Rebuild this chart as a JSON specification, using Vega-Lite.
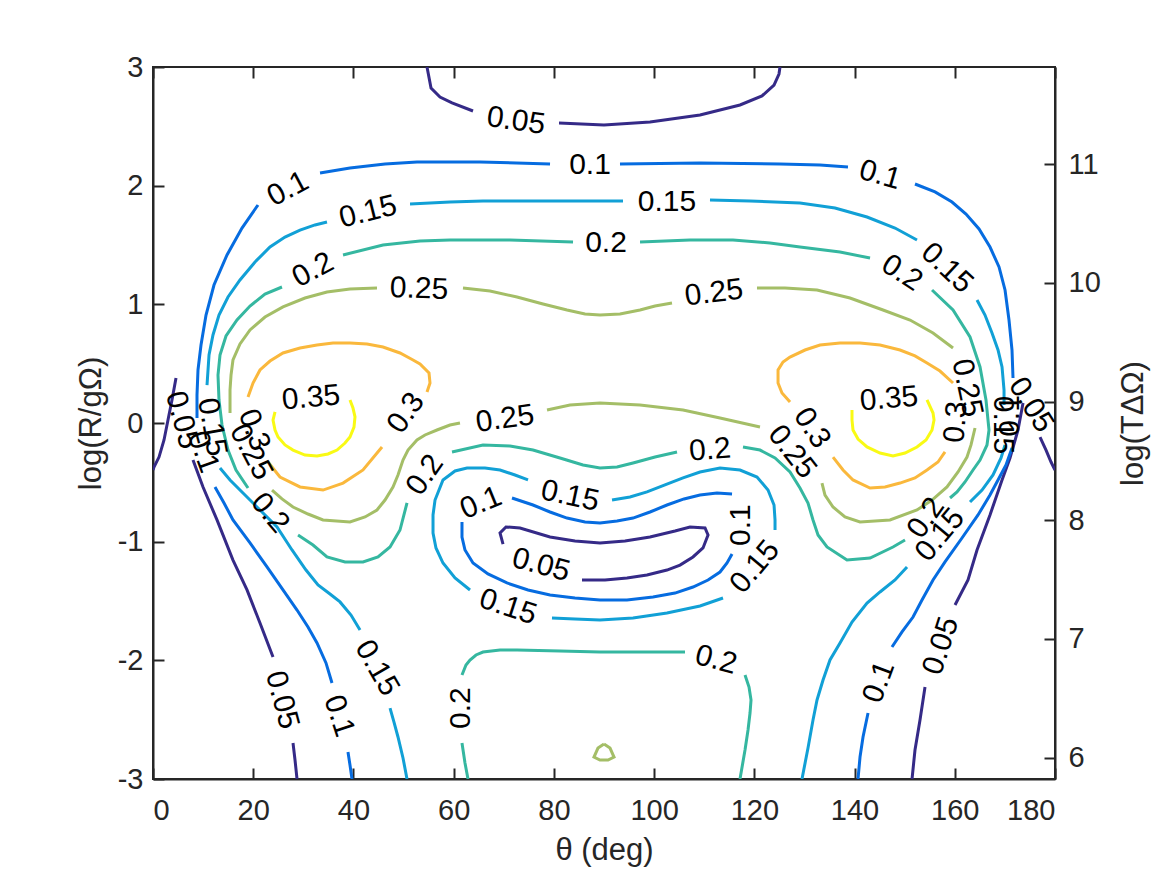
{
  "$schema": "https://vega.github.io/schema/vega-lite/v6.json",
  "width": 902,
  "height": 712,
  "autosize": {"type": "none"},
  "padding": {"left": 153, "top": 67, "right": 112, "bottom": 96},
  "background": "white",
  "config": {
    "font": "Liberation Sans",
    "view": {"stroke": "#262626", "strokeWidth": 2},
    "axis": {
      "grid": false,
      "domainColor": "#262626",
      "domainWidth": 2,
      "tickColor": "#262626",
      "tickWidth": 2,
      "tickSize": -11,
      "labelColor": "#262626",
      "labelFontSize": 29,
      "labelFont": "Liberation Sans",
      "titleColor": "#262626",
      "titleFontSize": 31,
      "titleFontWeight": "normal",
      "titleFont": "Liberation Sans"
    }
  },
  "datasets": {
    "lines": [
      {"level":"0.05","seg":"05a","theta":54.68,"logR":3.0},
      {"level":"0.05","seg":"05a","theta":55.48,"logR":2.823},
      {"level":"0.05","seg":"05a","theta":57.27,"logR":2.747},
      {"level":"0.05","seg":"05a","theta":59.67,"logR":2.697},
      {"level":"0.05","seg":"05a","theta":63.86,"logR":2.629},
      {"level":"0.05","seg":"05b","theta":81.02,"logR":2.528},
      {"level":"0.05","seg":"05b","theta":90.0,"logR":2.511},
      {"level":"0.05","seg":"05b","theta":99.18,"logR":2.537},
      {"level":"0.05","seg":"05b","theta":109.16,"logR":2.596},
      {"level":"0.05","seg":"05b","theta":117.14,"logR":2.68},
      {"level":"0.05","seg":"05b","theta":121.53,"logR":2.756},
      {"level":"0.05","seg":"05b","theta":123.93,"logR":2.848},
      {"level":"0.05","seg":"05b","theta":124.92,"logR":2.941},
      {"level":"0.05","seg":"05b","theta":125.12,"logR":3.0},
      {"level":"0.05","seg":"05c","theta":4.59,"logR":0.379},
      {"level":"0.05","seg":"05c","theta":3.79,"logR":0.194},
      {"level":"0.05","seg":"05c","theta":2.99,"logR":0.025},
      {"level":"0.05","seg":"05c","theta":2.2,"logR":-0.143},
      {"level":"0.05","seg":"05c","theta":1.2,"logR":-0.287},
      {"level":"0.05","seg":"05c","theta":0.2,"logR":-0.371},
      {"level":"0.05","seg":"05c","theta":0,"logR":-0.396},
      {"level":"0.05","seg":"05d","theta":7.98,"logR":-0.312},
      {"level":"0.05","seg":"05d","theta":9.98,"logR":-0.539},
      {"level":"0.05","seg":"05d","theta":12.77,"logR":-0.817},
      {"level":"0.05","seg":"05d","theta":15.96,"logR":-1.155},
      {"level":"0.05","seg":"05d","theta":18.76,"logR":-1.407},
      {"level":"0.05","seg":"05d","theta":21.35,"logR":-1.685},
      {"level":"0.05","seg":"05d","theta":23.95,"logR":-1.972},
      {"level":"0.05","seg":"05e","theta":27.94,"logR":-2.697},
      {"level":"0.05","seg":"05e","theta":28.34,"logR":-2.84},
      {"level":"0.05","seg":"05e","theta":28.74,"logR":-3.0},
      {"level":"0.05","seg":"05f","theta":177.01,"logR":-0.118},
      {"level":"0.05","seg":"05f","theta":178.21,"logR":-0.228},
      {"level":"0.05","seg":"05f","theta":179.21,"logR":-0.329},
      {"level":"0.05","seg":"05f","theta":180,"logR":-0.396},
      {"level":"0.05","seg":"05g","theta":173.62,"logR":0.169},
      {"level":"0.05","seg":"05g","theta":172.62,"logR":-0.059},
      {"level":"0.05","seg":"05g","theta":171.02,"logR":-0.295},
      {"level":"0.05","seg":"05g","theta":169.43,"logR":-0.48},
      {"level":"0.05","seg":"05g","theta":167.03,"logR":-0.775},
      {"level":"0.05","seg":"05g","theta":164.44,"logR":-1.07},
      {"level":"0.05","seg":"05g","theta":162.64,"logR":-1.323},
      {"level":"0.05","seg":"05g","theta":160.05,"logR":-1.534},
      {"level":"0.05","seg":"05h","theta":154.06,"logR":-2.225},
      {"level":"0.05","seg":"05h","theta":153.06,"logR":-2.503},
      {"level":"0.05","seg":"05h","theta":152.06,"logR":-2.756},
      {"level":"0.05","seg":"05h","theta":151.47,"logR":-3.0},
      {"level":"0.05","seg":"05i","theta":69.85,"logR":-1.02},
      {"level":"0.05","seg":"05i","theta":69.25,"logR":-0.927},
      {"level":"0.05","seg":"05i","theta":70.44,"logR":-0.876},
      {"level":"0.05","seg":"05i","theta":73.24,"logR":-0.885},
      {"level":"0.05","seg":"05i","theta":79.23,"logR":-0.961},
      {"level":"0.05","seg":"05i","theta":84.21,"logR":-0.994},
      {"level":"0.05","seg":"05i","theta":89.2,"logR":-1.011},
      {"level":"0.05","seg":"05i","theta":94.19,"logR":-0.994},
      {"level":"0.05","seg":"05i","theta":99.18,"logR":-0.961},
      {"level":"0.05","seg":"05i","theta":104.17,"logR":-0.91},
      {"level":"0.05","seg":"05i","theta":107.16,"logR":-0.876},
      {"level":"0.05","seg":"05i","theta":110.16,"logR":-0.885},
      {"level":"0.05","seg":"05i","theta":110.76,"logR":-0.944},
      {"level":"0.05","seg":"05i","theta":109.76,"logR":-1.053},
      {"level":"0.05","seg":"05i","theta":107.76,"logR":-1.129},
      {"level":"0.05","seg":"05i","theta":105.17,"logR":-1.197},
      {"level":"0.05","seg":"05i","theta":102.57,"logR":-1.239},
      {"level":"0.05","seg":"05i","theta":98.58,"logR":-1.281},
      {"level":"0.05","seg":"05i","theta":94.59,"logR":-1.306},
      {"level":"0.05","seg":"05i","theta":90.2,"logR":-1.323},
      {"level":"0.05","seg":"05i","theta":85.61,"logR":-1.323},

      {"level":"0.1","seg":"10a","theta":8.78,"logR":0.042},
      {"level":"0.1","seg":"10a","theta":8.78,"logR":0.236},
      {"level":"0.1","seg":"10a","theta":8.98,"logR":0.447},
      {"level":"0.1","seg":"10a","theta":9.58,"logR":0.657},
      {"level":"0.1","seg":"10a","theta":10.58,"logR":0.91},
      {"level":"0.1","seg":"10a","theta":12.17,"logR":1.163},
      {"level":"0.1","seg":"10a","theta":14.77,"logR":1.416},
      {"level":"0.1","seg":"10a","theta":17.76,"logR":1.643},
      {"level":"0.1","seg":"10a","theta":20.95,"logR":1.837},
      {"level":"0.1","seg":"10b","theta":33.33,"logR":2.107},
      {"level":"0.1","seg":"10b","theta":39.31,"logR":2.149},
      {"level":"0.1","seg":"10b","theta":46.3,"logR":2.183},
      {"level":"0.1","seg":"10b","theta":52.68,"logR":2.199},
      {"level":"0.1","seg":"10b","theta":65.26,"logR":2.199},
      {"level":"0.1","seg":"10b","theta":79.23,"logR":2.183},
      {"level":"0.1","seg":"10c","theta":93.19,"logR":2.183},
      {"level":"0.1","seg":"10c","theta":109.16,"logR":2.191},
      {"level":"0.1","seg":"10c","theta":125.12,"logR":2.183},
      {"level":"0.1","seg":"10c","theta":133.11,"logR":2.174},
      {"level":"0.1","seg":"10c","theta":138.69,"logR":2.157},
      {"level":"0.1","seg":"10d","theta":152.06,"logR":2.014},
      {"level":"0.1","seg":"10d","theta":156.06,"logR":1.947},
      {"level":"0.1","seg":"10d","theta":159.45,"logR":1.862},
      {"level":"0.1","seg":"10d","theta":162.24,"logR":1.761},
      {"level":"0.1","seg":"10d","theta":164.84,"logR":1.635},
      {"level":"0.1","seg":"10d","theta":167.03,"logR":1.483},
      {"level":"0.1","seg":"10d","theta":168.83,"logR":1.315},
      {"level":"0.1","seg":"10d","theta":170.03,"logR":1.121},
      {"level":"0.1","seg":"10d","theta":170.82,"logR":0.868},
      {"level":"0.1","seg":"10d","theta":171.42,"logR":0.615},
      {"level":"0.1","seg":"10d","theta":171.62,"logR":0.379},
      {"level":"0.1","seg":"10e","theta":12.37,"logR":-0.539},
      {"level":"0.1","seg":"10e","theta":14.17,"logR":-0.674},
      {"level":"0.1","seg":"10e","theta":15.96,"logR":-0.817},
      {"level":"0.1","seg":"10e","theta":19.36,"logR":-1.011},
      {"level":"0.1","seg":"10e","theta":22.75,"logR":-1.213},
      {"level":"0.1","seg":"10e","theta":25.94,"logR":-1.407},
      {"level":"0.1","seg":"10e","theta":28.74,"logR":-1.576},
      {"level":"0.1","seg":"10e","theta":30.93,"logR":-1.719},
      {"level":"0.1","seg":"10e","theta":32.73,"logR":-1.854},
      {"level":"0.1","seg":"10e","theta":34.52,"logR":-2.022},
      {"level":"0.1","seg":"10e","theta":35.72,"logR":-2.191},
      {"level":"0.1","seg":"10f","theta":38.91,"logR":-2.772},
      {"level":"0.1","seg":"10f","theta":39.31,"logR":-2.882},
      {"level":"0.1","seg":"10f","theta":39.71,"logR":-3.0},
      {"level":"0.1","seg":"10g","theta":171.42,"logR":-0.211},
      {"level":"0.1","seg":"10g","theta":170.22,"logR":-0.354},
      {"level":"0.1","seg":"10g","theta":168.63,"logR":-0.48},
      {"level":"0.1","seg":"10g","theta":167.03,"logR":-0.607},
      {"level":"0.1","seg":"10g","theta":164.64,"logR":-0.775},
      {"level":"0.1","seg":"10g","theta":161.44,"logR":-0.969},
      {"level":"0.1","seg":"10g","theta":158.05,"logR":-1.171},
      {"level":"0.1","seg":"10g","theta":155.66,"logR":-1.323},
      {"level":"0.1","seg":"10g","theta":153.46,"logR":-1.492},
      {"level":"0.1","seg":"10g","theta":151.67,"logR":-1.635},
      {"level":"0.1","seg":"10g","theta":149.47,"logR":-1.761},
      {"level":"0.1","seg":"10g","theta":147.47,"logR":-1.888},
      {"level":"0.1","seg":"10h","theta":142.69,"logR":-2.444},
      {"level":"0.1","seg":"10h","theta":141.69,"logR":-2.646},
      {"level":"0.1","seg":"10h","theta":141.09,"logR":-2.815},
      {"level":"0.1","seg":"10h","theta":140.69,"logR":-3.0},
      {"level":"0.1","seg":"10i","theta":71.64,"logR":-0.632},
      {"level":"0.1","seg":"10i","theta":75.83,"logR":-0.691},
      {"level":"0.1","seg":"10i","theta":79.23,"logR":-0.75},
      {"level":"0.1","seg":"10i","theta":82.62,"logR":-0.801},
      {"level":"0.1","seg":"10i","theta":86.21,"logR":-0.834},
      {"level":"0.1","seg":"10i","theta":89.2,"logR":-0.843},
      {"level":"0.1","seg":"10i","theta":92.6,"logR":-0.826},
      {"level":"0.1","seg":"10i","theta":95.79,"logR":-0.801},
      {"level":"0.1","seg":"10i","theta":99.18,"logR":-0.75},
      {"level":"0.1","seg":"10i","theta":102.57,"logR":-0.691},
      {"level":"0.1","seg":"10i","theta":105.97,"logR":-0.64},
      {"level":"0.1","seg":"10i","theta":109.16,"logR":-0.607},
      {"level":"0.1","seg":"10i","theta":112.55,"logR":-0.59},
      {"level":"0.1","seg":"10i","theta":115.55,"logR":-0.598},
      {"level":"0.1","seg":"10j","theta":115.55,"logR":-1.104},
      {"level":"0.1","seg":"10j","theta":114.55,"logR":-1.18},
      {"level":"0.1","seg":"10j","theta":113.15,"logR":-1.256},
      {"level":"0.1","seg":"10j","theta":110.76,"logR":-1.323},
      {"level":"0.1","seg":"10j","theta":107.76,"logR":-1.382},
      {"level":"0.1","seg":"10j","theta":104.17,"logR":-1.433},
      {"level":"0.1","seg":"10j","theta":99.78,"logR":-1.466},
      {"level":"0.1","seg":"10j","theta":94.59,"logR":-1.492},
      {"level":"0.1","seg":"10j","theta":89.2,"logR":-1.492},
      {"level":"0.1","seg":"10j","theta":84.21,"logR":-1.475},
      {"level":"0.1","seg":"10j","theta":79.23,"logR":-1.449},
      {"level":"0.1","seg":"10j","theta":74.84,"logR":-1.407},
      {"level":"0.1","seg":"10j","theta":70.64,"logR":-1.348},
      {"level":"0.1","seg":"10j","theta":66.85,"logR":-1.272},
      {"level":"0.1","seg":"10j","theta":63.86,"logR":-1.18},
      {"level":"0.1","seg":"10j","theta":62.26,"logR":-1.07},
      {"level":"0.1","seg":"10j","theta":61.66,"logR":-0.961},
      {"level":"0.1","seg":"10j","theta":61.66,"logR":-0.834},

      {"level":"0.15","seg":"15a","theta":10.78,"logR":0.32},
      {"level":"0.15","seg":"15a","theta":11.18,"logR":0.573},
      {"level":"0.15","seg":"15a","theta":11.97,"logR":0.742},
      {"level":"0.15","seg":"15a","theta":13.17,"logR":0.91},
      {"level":"0.15","seg":"15a","theta":14.97,"logR":1.062},
      {"level":"0.15","seg":"15a","theta":17.36,"logR":1.205},
      {"level":"0.15","seg":"15a","theta":20.36,"logR":1.357},
      {"level":"0.15","seg":"15a","theta":23.35,"logR":1.483},
      {"level":"0.15","seg":"15a","theta":26.34,"logR":1.567},
      {"level":"0.15","seg":"15a","theta":29.34,"logR":1.626},
      {"level":"0.15","seg":"15a","theta":32.33,"logR":1.669},
      {"level":"0.15","seg":"15a","theta":34.72,"logR":1.694},
      {"level":"0.15","seg":"15b","theta":51.29,"logR":1.846},
      {"level":"0.15","seg":"15b","theta":59.27,"logR":1.862},
      {"level":"0.15","seg":"15b","theta":65.85,"logR":1.871},
      {"level":"0.15","seg":"15b","theta":77.23,"logR":1.871},
      {"level":"0.15","seg":"15b","theta":89.2,"logR":1.871},
      {"level":"0.15","seg":"15b","theta":93.79,"logR":1.871},
      {"level":"0.15","seg":"15c","theta":111.15,"logR":1.879},
      {"level":"0.15","seg":"15c","theta":119.14,"logR":1.871},
      {"level":"0.15","seg":"15c","theta":129.11,"logR":1.854},
      {"level":"0.15","seg":"15c","theta":136.1,"logR":1.812},
      {"level":"0.15","seg":"15c","theta":142.49,"logR":1.736},
      {"level":"0.15","seg":"15c","theta":148.07,"logR":1.643},
      {"level":"0.15","seg":"15c","theta":152.46,"logR":1.542},
      {"level":"0.15","seg":"15d","theta":164.44,"logR":1.037},
      {"level":"0.15","seg":"15d","theta":166.03,"logR":0.91},
      {"level":"0.15","seg":"15d","theta":167.43,"logR":0.758},
      {"level":"0.15","seg":"15d","theta":168.63,"logR":0.615},
      {"level":"0.15","seg":"15d","theta":169.43,"logR":0.472},
      {"level":"0.15","seg":"15d","theta":169.83,"logR":0.278},
      {"level":"0.15","seg":"15d","theta":169.83,"logR":0.152},
      {"level":"0.15","seg":"15e","theta":13.37,"logR":-0.379},
      {"level":"0.15","seg":"15e","theta":15.37,"logR":-0.48},
      {"level":"0.15","seg":"15e","theta":17.96,"logR":-0.59},
      {"level":"0.15","seg":"15e","theta":21.35,"logR":-0.733},
      {"level":"0.15","seg":"15e","theta":24.75,"logR":-0.876},
      {"level":"0.15","seg":"15e","theta":27.74,"logR":-1.07},
      {"level":"0.15","seg":"15e","theta":30.53,"logR":-1.239},
      {"level":"0.15","seg":"15e","theta":32.93,"logR":-1.365},
      {"level":"0.15","seg":"15e","theta":35.32,"logR":-1.441},
      {"level":"0.15","seg":"15e","theta":37.32,"logR":-1.508},
      {"level":"0.15","seg":"15e","theta":39.51,"logR":-1.618},
      {"level":"0.15","seg":"15e","theta":41.31,"logR":-1.744},
      {"level":"0.15","seg":"15f","theta":47.3,"logR":-2.402},
      {"level":"0.15","seg":"15f","theta":48.09,"logR":-2.52},
      {"level":"0.15","seg":"15f","theta":48.89,"logR":-2.646},
      {"level":"0.15","seg":"15f","theta":49.89,"logR":-2.823},
      {"level":"0.15","seg":"15f","theta":50.69,"logR":-3.0},
      {"level":"0.15","seg":"15g","theta":170.03,"logR":-0.185},
      {"level":"0.15","seg":"15g","theta":169.23,"logR":-0.295},
      {"level":"0.15","seg":"15g","theta":167.63,"logR":-0.438},
      {"level":"0.15","seg":"15g","theta":165.44,"logR":-0.565},
      {"level":"0.15","seg":"15g","theta":163.04,"logR":-0.666},
      {"level":"0.15","seg":"15h","theta":150.47,"logR":-1.213},
      {"level":"0.15","seg":"15h","theta":148.07,"logR":-1.323},
      {"level":"0.15","seg":"15h","theta":145.08,"logR":-1.424},
      {"level":"0.15","seg":"15h","theta":142.49,"logR":-1.517},
      {"level":"0.15","seg":"15h","theta":139.49,"logR":-1.677},
      {"level":"0.15","seg":"15h","theta":137.1,"logR":-1.854},
      {"level":"0.15","seg":"15h","theta":135.1,"logR":-1.997},
      {"level":"0.15","seg":"15h","theta":133.71,"logR":-2.166},
      {"level":"0.15","seg":"15h","theta":132.51,"logR":-2.334},
      {"level":"0.15","seg":"15h","theta":131.71,"logR":-2.503},
      {"level":"0.15","seg":"15h","theta":130.71,"logR":-2.739},
      {"level":"0.15","seg":"15h","theta":129.51,"logR":-3.0},
      {"level":"0.15","seg":"15i","theta":91.6,"logR":-0.649},
      {"level":"0.15","seg":"15i","theta":95.19,"logR":-0.624},
      {"level":"0.15","seg":"15i","theta":98.58,"logR":-0.581},
      {"level":"0.15","seg":"15i","theta":102.17,"logR":-0.522},
      {"level":"0.15","seg":"15i","theta":105.77,"logR":-0.463},
      {"level":"0.15","seg":"15i","theta":109.16,"logR":-0.413},
      {"level":"0.15","seg":"15i","theta":113.15,"logR":-0.379},
      {"level":"0.15","seg":"15i","theta":117.14,"logR":-0.396},
      {"level":"0.15","seg":"15i","theta":120.53,"logR":-0.455},
      {"level":"0.15","seg":"15i","theta":122.73,"logR":-0.565},
      {"level":"0.15","seg":"15i","theta":123.93,"logR":-0.691},
      {"level":"0.15","seg":"15i","theta":124.13,"logR":-0.817},
      {"level":"0.15","seg":"15i","theta":124.13,"logR":-0.902},
      {"level":"0.15","seg":"15j","theta":113.75,"logR":-1.475},
      {"level":"0.15","seg":"15j","theta":109.16,"logR":-1.542},
      {"level":"0.15","seg":"15j","theta":102.57,"logR":-1.601},
      {"level":"0.15","seg":"15j","theta":95.79,"logR":-1.643},
      {"level":"0.15","seg":"15j","theta":89.2,"logR":-1.66},
      {"level":"0.15","seg":"15j","theta":84.21,"logR":-1.652},
      {"level":"0.15","seg":"15j","theta":79.62,"logR":-1.643},
      {"level":"0.15","seg":"15k","theta":63.26,"logR":-1.407},
      {"level":"0.15","seg":"15k","theta":60.27,"logR":-1.306},
      {"level":"0.15","seg":"15k","theta":57.87,"logR":-1.18},
      {"level":"0.15","seg":"15k","theta":56.47,"logR":-1.053},
      {"level":"0.15","seg":"15k","theta":55.88,"logR":-0.927},
      {"level":"0.15","seg":"15k","theta":55.88,"logR":-0.775},
      {"level":"0.15","seg":"15k","theta":56.28,"logR":-0.649},
      {"level":"0.15","seg":"15k","theta":57.87,"logR":-0.48},
      {"level":"0.15","seg":"15k","theta":60.27,"logR":-0.404},
      {"level":"0.15","seg":"15k","theta":62.66,"logR":-0.379},
      {"level":"0.15","seg":"15k","theta":66.25,"logR":-0.379},
      {"level":"0.15","seg":"15k","theta":69.25,"logR":-0.396},
      {"level":"0.15","seg":"15k","theta":72.24,"logR":-0.438},
      {"level":"0.15","seg":"15k","theta":74.84,"logR":-0.48},

      {"level":"0.2","seg":"20a","theta":18.96,"logR":-0.548},
      {"level":"0.2","seg":"20a","theta":16.56,"logR":-0.396},
      {"level":"0.2","seg":"20a","theta":14.97,"logR":-0.228},
      {"level":"0.2","seg":"20a","theta":13.77,"logR":-0.017},
      {"level":"0.2","seg":"20a","theta":13.17,"logR":0.194},
      {"level":"0.2","seg":"20a","theta":12.97,"logR":0.404},
      {"level":"0.2","seg":"20a","theta":13.37,"logR":0.573},
      {"level":"0.2","seg":"20a","theta":14.57,"logR":0.733},
      {"level":"0.2","seg":"20a","theta":16.76,"logR":0.868},
      {"level":"0.2","seg":"20a","theta":19.36,"logR":0.986},
      {"level":"0.2","seg":"20a","theta":22.35,"logR":1.087},
      {"level":"0.2","seg":"20a","theta":25.74,"logR":1.146},
      {"level":"0.2","seg":"20b","theta":37.92,"logR":1.416},
      {"level":"0.2","seg":"20b","theta":45.9,"logR":1.5},
      {"level":"0.2","seg":"20b","theta":53.28,"logR":1.534},
      {"level":"0.2","seg":"20b","theta":59.27,"logR":1.542},
      {"level":"0.2","seg":"20b","theta":71.24,"logR":1.542},
      {"level":"0.2","seg":"20b","theta":83.82,"logR":1.525},
      {"level":"0.2","seg":"20c","theta":97.19,"logR":1.525},
      {"level":"0.2","seg":"20c","theta":107.16,"logR":1.542},
      {"level":"0.2","seg":"20c","theta":115.74,"logR":1.542},
      {"level":"0.2","seg":"20c","theta":123.13,"logR":1.517},
      {"level":"0.2","seg":"20c","theta":129.11,"logR":1.483},
      {"level":"0.2","seg":"20c","theta":137.1,"logR":1.441},
      {"level":"0.2","seg":"20c","theta":143.09,"logR":1.39},
      {"level":"0.2","seg":"20d","theta":155.46,"logR":1.121},
      {"level":"0.2","seg":"20d","theta":159.65,"logR":0.952},
      {"level":"0.2","seg":"20d","theta":163.04,"logR":0.725},
      {"level":"0.2","seg":"20d","theta":165.04,"logR":0.472},
      {"level":"0.2","seg":"20d","theta":166.23,"logR":0.194},
      {"level":"0.2","seg":"20d","theta":166.83,"logR":-0.059},
      {"level":"0.2","seg":"20d","theta":166.43,"logR":-0.185},
      {"level":"0.2","seg":"20d","theta":165.04,"logR":-0.312},
      {"level":"0.2","seg":"20d","theta":163.64,"logR":-0.396},
      {"level":"0.2","seg":"20d","theta":162.04,"logR":-0.497},
      {"level":"0.2","seg":"20d","theta":160.45,"logR":-0.581},
      {"level":"0.2","seg":"20d","theta":159.05,"logR":-0.632},
      {"level":"0.2","seg":"20e","theta":150.07,"logR":-0.986},
      {"level":"0.2","seg":"20e","theta":147.67,"logR":-1.045},
      {"level":"0.2","seg":"20e","theta":143.09,"logR":-1.138},
      {"level":"0.2","seg":"20e","theta":138.49,"logR":-1.155},
      {"level":"0.2","seg":"20e","theta":134.5,"logR":-1.045},
      {"level":"0.2","seg":"20e","theta":132.71,"logR":-0.944},
      {"level":"0.2","seg":"20e","theta":131.71,"logR":-0.817},
      {"level":"0.2","seg":"20e","theta":130.71,"logR":-0.674},
      {"level":"0.2","seg":"20e","theta":129.11,"logR":-0.548},
      {"level":"0.2","seg":"20e","theta":127.12,"logR":-0.413},
      {"level":"0.2","seg":"20e","theta":124.13,"logR":-0.295},
      {"level":"0.2","seg":"20e","theta":121.13,"logR":-0.228},
      {"level":"0.2","seg":"20e","theta":117.74,"logR":-0.202},
      {"level":"0.2","seg":"20f","theta":104.57,"logR":-0.244},
      {"level":"0.2","seg":"20f","theta":100.18,"logR":-0.287},
      {"level":"0.2","seg":"20f","theta":95.79,"logR":-0.337},
      {"level":"0.2","seg":"20f","theta":92.6,"logR":-0.371},
      {"level":"0.2","seg":"20f","theta":89.2,"logR":-0.379},
      {"level":"0.2","seg":"20f","theta":85.81,"logR":-0.354},
      {"level":"0.2","seg":"20f","theta":81.22,"logR":-0.295},
      {"level":"0.2","seg":"20f","theta":75.83,"logR":-0.228},
      {"level":"0.2","seg":"20f","theta":71.24,"logR":-0.194},
      {"level":"0.2","seg":"20f","theta":65.85,"logR":-0.185},
      {"level":"0.2","seg":"20f","theta":59.67,"logR":-0.244},
      {"level":"0.2","seg":"20g","theta":50.69,"logR":-0.674},
      {"level":"0.2","seg":"20g","theta":49.29,"logR":-0.902},
      {"level":"0.2","seg":"20g","theta":47.3,"logR":-1.045},
      {"level":"0.2","seg":"20g","theta":44.9,"logR":-1.129},
      {"level":"0.2","seg":"20g","theta":41.91,"logR":-1.171},
      {"level":"0.2","seg":"20g","theta":38.32,"logR":-1.171},
      {"level":"0.2","seg":"20g","theta":34.72,"logR":-1.129},
      {"level":"0.2","seg":"20g","theta":31.93,"logR":-1.028},
      {"level":"0.2","seg":"20g","theta":28.94,"logR":-0.944},
      {"level":"0.2","seg":"20h","theta":61.66,"logR":-2.124},
      {"level":"0.2","seg":"20h","theta":62.46,"logR":-2.039},
      {"level":"0.2","seg":"20h","theta":63.26,"logR":-1.997},
      {"level":"0.2","seg":"20h","theta":64.46,"logR":-1.955},
      {"level":"0.2","seg":"20h","theta":65.85,"logR":-1.93},
      {"level":"0.2","seg":"20h","theta":69.25,"logR":-1.913},
      {"level":"0.2","seg":"20h","theta":72.64,"logR":-1.913},
      {"level":"0.2","seg":"20h","theta":81.22,"logR":-1.921},
      {"level":"0.2","seg":"20h","theta":89.2,"logR":-1.93},
      {"level":"0.2","seg":"20h","theta":97.19,"logR":-1.93},
      {"level":"0.2","seg":"20h","theta":106.17,"logR":-1.93},
      {"level":"0.2","seg":"20i","theta":118.14,"logR":-2.124},
      {"level":"0.2","seg":"20i","theta":118.94,"logR":-2.225},
      {"level":"0.2","seg":"20i","theta":119.34,"logR":-2.334},
      {"level":"0.2","seg":"20i","theta":119.14,"logR":-2.444},
      {"level":"0.2","seg":"20i","theta":118.74,"logR":-2.587},
      {"level":"0.2","seg":"20i","theta":118.14,"logR":-2.756},
      {"level":"0.2","seg":"20i","theta":117.14,"logR":-3.0},
      {"level":"0.2","seg":"20j","theta":61.66,"logR":-2.697},
      {"level":"0.2","seg":"20j","theta":62.26,"logR":-2.865},
      {"level":"0.2","seg":"20j","theta":62.86,"logR":-3.0},

      {"level":"0.25","seg":"25a","theta":15.37,"logR":0.084},
      {"level":"0.25","seg":"25a","theta":15.37,"logR":0.278},
      {"level":"0.25","seg":"25a","theta":15.57,"logR":0.404},
      {"level":"0.25","seg":"25a","theta":15.96,"logR":0.531},
      {"level":"0.25","seg":"25a","theta":17.36,"logR":0.666},
      {"level":"0.25","seg":"25a","theta":19.36,"logR":0.784},
      {"level":"0.25","seg":"25a","theta":22.35,"logR":0.893},
      {"level":"0.25","seg":"25a","theta":25.94,"logR":0.978},
      {"level":"0.25","seg":"25a","theta":30.33,"logR":1.053},
      {"level":"0.25","seg":"25a","theta":34.72,"logR":1.104},
      {"level":"0.25","seg":"25a","theta":39.31,"logR":1.129},
      {"level":"0.25","seg":"25a","theta":44.7,"logR":1.138},
      {"level":"0.25","seg":"25b","theta":61.86,"logR":1.138},
      {"level":"0.25","seg":"25b","theta":67.25,"logR":1.112},
      {"level":"0.25","seg":"25b","theta":72.64,"logR":1.062},
      {"level":"0.25","seg":"25b","theta":77.83,"logR":1.003},
      {"level":"0.25","seg":"25b","theta":82.62,"logR":0.952},
      {"level":"0.25","seg":"25b","theta":86.21,"logR":0.919},
      {"level":"0.25","seg":"25b","theta":89.2,"logR":0.91},
      {"level":"0.25","seg":"25b","theta":93.19,"logR":0.919},
      {"level":"0.25","seg":"25b","theta":97.19,"logR":0.952},
      {"level":"0.25","seg":"25b","theta":100.18,"logR":0.986},
      {"level":"0.25","seg":"25b","theta":103.57,"logR":1.011},
      {"level":"0.25","seg":"25c","theta":120.53,"logR":1.138},
      {"level":"0.25","seg":"25c","theta":126.12,"logR":1.138},
      {"level":"0.25","seg":"25c","theta":132.51,"logR":1.121},
      {"level":"0.25","seg":"25c","theta":139.09,"logR":1.053},
      {"level":"0.25","seg":"25c","theta":145.68,"logR":0.952},
      {"level":"0.25","seg":"25c","theta":151.07,"logR":0.868},
      {"level":"0.25","seg":"25c","theta":155.66,"logR":0.758},
      {"level":"0.25","seg":"25c","theta":159.65,"logR":0.632},
      {"level":"0.25","seg":"25d","theta":164.04,"logR":-0.042},
      {"level":"0.25","seg":"25d","theta":163.24,"logR":-0.185},
      {"level":"0.25","seg":"25d","theta":162.44,"logR":-0.287},
      {"level":"0.25","seg":"25d","theta":160.65,"logR":-0.413},
      {"level":"0.25","seg":"25d","theta":158.45,"logR":-0.539},
      {"level":"0.25","seg":"25d","theta":155.46,"logR":-0.649},
      {"level":"0.25","seg":"25d","theta":152.46,"logR":-0.733},
      {"level":"0.25","seg":"25d","theta":147.07,"logR":-0.817},
      {"level":"0.25","seg":"25d","theta":141.09,"logR":-0.834},
      {"level":"0.25","seg":"25d","theta":138.09,"logR":-0.792},
      {"level":"0.25","seg":"25d","theta":135.7,"logR":-0.708},
      {"level":"0.25","seg":"25d","theta":134.1,"logR":-0.607},
      {"level":"0.25","seg":"25d","theta":133.5,"logR":-0.506},
      {"level":"0.25","seg":"25e","theta":121.13,"logR":-0.034},
      {"level":"0.25","seg":"25e","theta":113.15,"logR":0.042},
      {"level":"0.25","seg":"25e","theta":105.77,"logR":0.11},
      {"level":"0.25","seg":"25e","theta":97.19,"logR":0.152},
      {"level":"0.25","seg":"25e","theta":89.2,"logR":0.169},
      {"level":"0.25","seg":"25e","theta":83.22,"logR":0.152},
      {"level":"0.25","seg":"25e","theta":78.63,"logR":0.11},
      {"level":"0.25","seg":"25f","theta":61.26,"logR":0.0},
      {"level":"0.25","seg":"25f","theta":59.27,"logR":-0.017},
      {"level":"0.25","seg":"25f","theta":56.67,"logR":-0.059},
      {"level":"0.25","seg":"25f","theta":54.28,"logR":-0.101},
      {"level":"0.25","seg":"25f","theta":52.68,"logR":-0.143},
      {"level":"0.25","seg":"25f","theta":50.89,"logR":-0.228},
      {"level":"0.25","seg":"25f","theta":49.89,"logR":-0.312},
      {"level":"0.25","seg":"25f","theta":48.89,"logR":-0.438},
      {"level":"0.25","seg":"25f","theta":47.89,"logR":-0.539},
      {"level":"0.25","seg":"25f","theta":46.3,"logR":-0.649},
      {"level":"0.25","seg":"25f","theta":44.7,"logR":-0.733},
      {"level":"0.25","seg":"25f","theta":42.31,"logR":-0.792},
      {"level":"0.25","seg":"25f","theta":39.31,"logR":-0.834},
      {"level":"0.25","seg":"25f","theta":33.93,"logR":-0.817},
      {"level":"0.25","seg":"25f","theta":30.93,"logR":-0.767},
      {"level":"0.25","seg":"25f","theta":27.94,"logR":-0.708},
      {"level":"0.25","seg":"25f","theta":25.74,"logR":-0.64},
      {"level":"0.25","seg":"25f","theta":23.75,"logR":-0.565},
      {"level":"0.25","seg":"25g","theta":90.0,"logR":-2.705},
      {"level":"0.25","seg":"25g","theta":91.2,"logR":-2.739},
      {"level":"0.25","seg":"25g","theta":92.0,"logR":-2.815},
      {"level":"0.25","seg":"25g","theta":90.8,"logR":-2.84},
      {"level":"0.25","seg":"25g","theta":89.2,"logR":-2.84},
      {"level":"0.25","seg":"25g","theta":88.0,"logR":-2.815},
      {"level":"0.25","seg":"25g","theta":88.8,"logR":-2.739},
      {"level":"0.25","seg":"25g","theta":90.0,"logR":-2.705},

      {"level":"0.3","seg":"30a","theta":54.68,"logR":0.261},
      {"level":"0.3","seg":"30a","theta":55.28,"logR":0.337},
      {"level":"0.3","seg":"30a","theta":55.08,"logR":0.421},
      {"level":"0.3","seg":"30a","theta":53.28,"logR":0.497},
      {"level":"0.3","seg":"30a","theta":51.89,"logR":0.531},
      {"level":"0.3","seg":"30a","theta":49.29,"logR":0.59},
      {"level":"0.3","seg":"30a","theta":45.9,"logR":0.64},
      {"level":"0.3","seg":"30a","theta":42.71,"logR":0.666},
      {"level":"0.3","seg":"30a","theta":39.31,"logR":0.674},
      {"level":"0.3","seg":"30a","theta":35.92,"logR":0.674},
      {"level":"0.3","seg":"30a","theta":32.73,"logR":0.657},
      {"level":"0.3","seg":"30a","theta":29.34,"logR":0.632},
      {"level":"0.3","seg":"30a","theta":25.94,"logR":0.59},
      {"level":"0.3","seg":"30a","theta":23.35,"logR":0.522},
      {"level":"0.3","seg":"30a","theta":21.35,"logR":0.447},
      {"level":"0.3","seg":"30a","theta":19.96,"logR":0.337},
      {"level":"0.3","seg":"30a","theta":18.96,"logR":0.219},
      {"level":"0.3","seg":"30b","theta":22.95,"logR":-0.329},
      {"level":"0.3","seg":"30b","theta":25.34,"logR":-0.455},
      {"level":"0.3","seg":"30b","theta":29.34,"logR":-0.539},
      {"level":"0.3","seg":"30b","theta":33.93,"logR":-0.565},
      {"level":"0.3","seg":"30b","theta":37.92,"logR":-0.506},
      {"level":"0.3","seg":"30b","theta":41.91,"logR":-0.396},
      {"level":"0.3","seg":"30b","theta":45.7,"logR":-0.202},
      {"level":"0.3","seg":"30c","theta":127.12,"logR":0.177},
      {"level":"0.3","seg":"30c","theta":125.52,"logR":0.253},
      {"level":"0.3","seg":"30c","theta":124.73,"logR":0.337},
      {"level":"0.3","seg":"30c","theta":124.73,"logR":0.447},
      {"level":"0.3","seg":"30c","theta":125.72,"logR":0.514},
      {"level":"0.3","seg":"30c","theta":127.12,"logR":0.556},
      {"level":"0.3","seg":"30c","theta":130.11,"logR":0.615},
      {"level":"0.3","seg":"30c","theta":133.11,"logR":0.657},
      {"level":"0.3","seg":"30c","theta":137.1,"logR":0.674},
      {"level":"0.3","seg":"30c","theta":141.09,"logR":0.674},
      {"level":"0.3","seg":"30c","theta":145.08,"logR":0.657},
      {"level":"0.3","seg":"30c","theta":149.07,"logR":0.615},
      {"level":"0.3","seg":"30c","theta":152.06,"logR":0.565},
      {"level":"0.3","seg":"30c","theta":154.46,"logR":0.506},
      {"level":"0.3","seg":"30c","theta":157.05,"logR":0.438},
      {"level":"0.3","seg":"30c","theta":159.65,"logR":0.337},
      {"level":"0.3","seg":"30d","theta":158.05,"logR":-0.244},
      {"level":"0.3","seg":"30d","theta":156.65,"logR":-0.329},
      {"level":"0.3","seg":"30d","theta":154.46,"logR":-0.396},
      {"level":"0.3","seg":"30d","theta":152.06,"logR":-0.463},
      {"level":"0.3","seg":"30d","theta":149.07,"logR":-0.506},
      {"level":"0.3","seg":"30d","theta":146.08,"logR":-0.539},
      {"level":"0.3","seg":"30d","theta":143.09,"logR":-0.548},
      {"level":"0.3","seg":"30d","theta":139.69,"logR":-0.48},
      {"level":"0.3","seg":"30d","theta":137.7,"logR":-0.396},
      {"level":"0.3","seg":"30d","theta":135.7,"logR":-0.287},

      {"level":"0.35","seg":"35a","theta":24.35,"logR":0.093},
      {"level":"0.35","seg":"35a","theta":23.95,"logR":0.025},
      {"level":"0.35","seg":"35a","theta":24.35,"logR":-0.059},
      {"level":"0.35","seg":"35a","theta":24.95,"logR":-0.118},
      {"level":"0.35","seg":"35a","theta":26.34,"logR":-0.185},
      {"level":"0.35","seg":"35a","theta":27.94,"logR":-0.228},
      {"level":"0.35","seg":"35a","theta":30.33,"logR":-0.27},
      {"level":"0.35","seg":"35a","theta":32.73,"logR":-0.278},
      {"level":"0.35","seg":"35a","theta":34.92,"logR":-0.261},
      {"level":"0.35","seg":"35a","theta":36.72,"logR":-0.228},
      {"level":"0.35","seg":"35a","theta":38.32,"logR":-0.169},
      {"level":"0.35","seg":"35a","theta":39.31,"logR":-0.118},
      {"level":"0.35","seg":"35a","theta":40.11,"logR":-0.034},
      {"level":"0.35","seg":"35a","theta":40.31,"logR":0.051},
      {"level":"0.35","seg":"35a","theta":39.91,"logR":0.126},
      {"level":"0.35","seg":"35a","theta":39.31,"logR":0.194},
      {"level":"0.35","seg":"35b","theta":139.49,"logR":0.11},
      {"level":"0.35","seg":"35b","theta":139.49,"logR":0.025},
      {"level":"0.35","seg":"35b","theta":139.69,"logR":-0.059},
      {"level":"0.35","seg":"35b","theta":140.69,"logR":-0.135},
      {"level":"0.35","seg":"35b","theta":142.49,"logR":-0.202},
      {"level":"0.35","seg":"35b","theta":145.08,"logR":-0.253},
      {"level":"0.35","seg":"35b","theta":147.67,"logR":-0.278},
      {"level":"0.35","seg":"35b","theta":150.07,"logR":-0.253},
      {"level":"0.35","seg":"35b","theta":152.46,"logR":-0.202},
      {"level":"0.35","seg":"35b","theta":154.26,"logR":-0.143},
      {"level":"0.35","seg":"35b","theta":155.46,"logR":-0.059},
      {"level":"0.35","seg":"35b","theta":155.86,"logR":0.025},
      {"level":"0.35","seg":"35b","theta":155.66,"logR":0.084},
      {"level":"0.35","seg":"35b","theta":154.46,"logR":0.194}
    ],
    "labels": [
      {"label":"0.05","theta":72.44,"logR":2.545,"angle":8},
      {"label":"0.05","theta":5.79,"logR":0.025,"angle":75},
      {"label":"0.05","theta":25.74,"logR":-2.334,"angle":75},
      {"label":"0.05","theta":175.21,"logR":0.152,"angle":58},
      {"label":"0.05","theta":157.25,"logR":-1.879,"angle":-72},
      {"label":"0.05","theta":77.43,"logR":-1.197,"angle":15},
      {"label":"0.1","theta":26.94,"logR":1.972,"angle":-28},
      {"label":"0.1","theta":87.21,"logR":2.174,"angle":0},
      {"label":"0.1","theta":145.08,"logR":2.09,"angle":16},
      {"label":"0.1","theta":9.98,"logR":-0.244,"angle":70},
      {"label":"0.1","theta":171.02,"logR":0.059,"angle":-90},
      {"label":"0.1","theta":37.12,"logR":-2.469,"angle":72},
      {"label":"0.1","theta":144.88,"logR":-2.183,"angle":-70},
      {"label":"0.1","theta":117.34,"logR":-0.86,"angle":-90},
      {"label":"0.1","theta":65.46,"logR":-0.674,"angle":-22},
      {"label":"0.15","theta":42.91,"logR":1.778,"angle":-14},
      {"label":"0.15","theta":102.57,"logR":1.862,"angle":0},
      {"label":"0.15","theta":158.45,"logR":1.306,"angle":43},
      {"label":"0.15","theta":11.77,"logR":-0.034,"angle":80},
      {"label":"0.15","theta":169.63,"logR":-0.017,"angle":90},
      {"label":"0.15","theta":44.7,"logR":-2.065,"angle":60},
      {"label":"0.15","theta":157.05,"logR":-0.944,"angle":-50},
      {"label":"0.15","theta":120.13,"logR":-1.213,"angle":-50},
      {"label":"0.15","theta":70.84,"logR":-1.551,"angle":18},
      {"label":"0.15","theta":83.22,"logR":-0.615,"angle":12},
      {"label":"0.2","theta":31.93,"logR":1.289,"angle":-28},
      {"label":"0.2","theta":90.4,"logR":1.517,"angle":0},
      {"label":"0.2","theta":149.47,"logR":1.264,"angle":33},
      {"label":"0.2","theta":154.26,"logR":-0.801,"angle":-55},
      {"label":"0.2","theta":111.15,"logR":-0.228,"angle":-5},
      {"label":"0.2","theta":54.28,"logR":-0.438,"angle":-55},
      {"label":"0.2","theta":23.35,"logR":-0.758,"angle":50},
      {"label":"0.2","theta":112.35,"logR":-1.997,"angle":15},
      {"label":"0.2","theta":61.46,"logR":-2.402,"angle":-90},
      {"label":"0.25","theta":53.08,"logR":1.129,"angle":2},
      {"label":"0.25","theta":111.95,"logR":1.096,"angle":-7},
      {"label":"0.25","theta":162.44,"logR":0.295,"angle":78},
      {"label":"0.25","theta":127.52,"logR":-0.244,"angle":52},
      {"label":"0.25","theta":70.24,"logR":0.034,"angle":-8},
      {"label":"0.25","theta":19.56,"logR":-0.244,"angle":62},
      {"label":"0.3","theta":20.16,"logR":-0.059,"angle":70},
      {"label":"0.3","theta":50.49,"logR":0.084,"angle":-55},
      {"label":"0.3","theta":160.25,"logR":0.008,"angle":-85},
      {"label":"0.3","theta":131.51,"logR":-0.042,"angle":57},
      {"label":"0.35","theta":31.53,"logR":0.211,"angle":-5},
      {"label":"0.35","theta":146.88,"logR":0.202,"angle":-5}
    ]
  },
  "layer": [
    {
      "layer": [
        {
          "data": {"name": "lines"},
          "mark": {"type": "line", "strokeWidth": 3, "clip": true},
          "encoding": {
            "x": {
              "field": "theta",
              "type": "quantitative",
              "scale": {"domain": [0, 180], "nice": false, "zero": false},
              "axis": {
                "values": [0, 20, 40, 60, 80, 100, 120, 140, 160, 180],
                "title": "θ (deg)",
                "labelPadding": 28,
                "titlePadding": 10
              }
            },
            "y": {
              "field": "logR",
              "type": "quantitative",
              "scale": {"domain": [-3, 3], "nice": false, "zero": false},
              "axis": {
                "values": [-3, -2, -1, 0, 1, 2, 3],
                "labelExpr": "'' + datum.value",
                "title": "log(R/gΩ)",
                "labelPadding": 21,
                "titlePadding": 10
              }
            },
            "detail": {"field": "seg"},
            "color": {
              "field": "level",
              "type": "nominal",
              "scale": {
                "domain": ["0.05", "0.1", "0.15", "0.2", "0.25", "0.3", "0.35"],
                "range": ["#352a87", "#066ce0", "#11a0d6", "#35b7a0", "#a4be67", "#fab83c", "#f9fa14"]
              },
              "legend": null
            },
            "order": {"value": null}
          }
        },
        {
          "data": {"name": "labels"},
          "mark": {"type": "text", "fontSize": 30, "font": "Liberation Sans", "color": "black", "align": "center", "baseline": "middle"},
          "encoding": {
            "x": {"field": "theta", "type": "quantitative"},
            "y": {"field": "logR", "type": "quantitative"},
            "text": {"field": "label"},
            "angle": {"field": "angle", "type": "quantitative", "scale": null}
          }
        }
      ]
    },
    {
      "data": {"values": [{"logT": 5.82}, {"logT": 11.82}]},
      "mark": {"type": "point", "opacity": 0},
      "encoding": {
        "y": {
          "field": "logT",
          "type": "quantitative",
          "scale": {"domain": [5.82, 11.82], "nice": false, "zero": false},
          "axis": {
            "orient": "right",
            "values": [6, 7, 8, 9, 10, 11],
            "title": "log(TΔΩ)",
            "titleAngle": -90,
            "titleBaseline": "top",
            "labelPadding": 24,
            "titlePadding": 18
          }
        }
      }
    },
    {
      "data": {"values": [{"th": 0}, {"th": 180}]},
      "mark": {"type": "point", "opacity": 0},
      "encoding": {
        "x": {
          "field": "th",
          "type": "quantitative",
          "scale": {"domain": [0, 180], "nice": false, "zero": false},
          "axis": {
            "orient": "top",
            "values": [0, 20, 40, 60, 80, 100, 120, 140, 160, 180],
            "labels": false,
            "domain": false,
            "title": null
          }
        }
      }
    }
  ],
  "resolve": {"scale": {"x": "independent", "y": "independent"}}
}
